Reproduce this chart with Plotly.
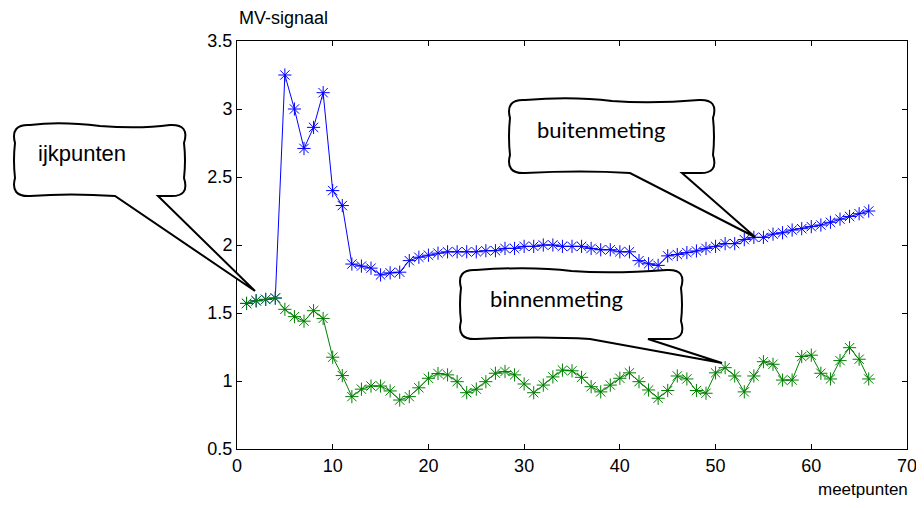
import plotly.graph_objects as go

meetpunten = list(range(1, 67))
buitenmeting = [1.57, 1.59, 1.60, 1.61, 3.25, 3.00, 2.71, 2.865, 3.12, 2.40,
                2.29, 1.86, 1.845, 1.83, 1.78, 1.795, 1.80, 1.885, 1.91, 1.925,
                1.94, 1.95, 1.95, 1.95, 1.95, 1.958, 1.958, 1.975, 1.975, 1.99,
                1.99, 2.0, 2.0, 1.99, 1.99, 1.99, 1.975, 1.965, 1.965, 1.95,
                1.95, 1.885, 1.862, 1.85, 1.92, 1.93, 1.944, 1.956, 1.975, 1.99,
                2.01, 2.01, 2.04, 2.056, 2.056, 2.08, 2.09, 2.11, 2.12, 2.135,
                2.147, 2.167, 2.19, 2.21, 2.23, 2.25]
binnenmeting = [1.571, 1.59, 1.60, 1.61, 1.527, 1.473, 1.44, 1.517, 1.46, 1.175,
                1.04, 0.885, 0.94, 0.963, 0.963, 0.927, 0.86, 0.885, 0.95, 1.02,
                1.055, 1.045, 0.995, 0.914, 0.94, 0.995, 1.057, 1.07, 1.045, 0.978,
                0.914, 0.97, 1.03, 1.08, 1.075, 1.027, 0.958, 0.92, 0.97, 1.02,
                1.06, 0.995, 0.934, 0.873, 0.93, 1.037, 1.015, 0.93, 0.91, 1.06,
                1.098, 1.037, 0.92, 1.037, 1.142, 1.123, 1.007, 1.007, 1.18, 1.19,
                1.057, 1.015, 1.15, 1.245, 1.16, 1.015]
x_ticks = [0, 10, 20, 30, 40, 50, 60, 70]
y_ticks = [0.5, 1, 1.5, 2, 2.5, 3, 3.5]

OFF = 8  # page body margin
W, H = 924 - 2 * OFF, 508 - 2 * OFF
# plot area in page pixels
L, R, T, B = 237, 907, 41, 449


def px(x, y):
    return (x - L) / (R - L), (B - y) / (B - T)


def bubble(x0, y0, x1, y1, tl, tr, tip, r=18):
    pts = []

    def P(cmd, *coords):
        s = cmd
        for i in range(0, len(coords), 2):
            a, b = px(coords[i], coords[i + 1])
            s += f" {a:.5f},{b:.5f}"
        pts.append(s)
    midx = (x0 + x1) / 2
    midy = (y0 + y1) / 2
    P("M", x0 + r, y0)
    P("Q", midx - 40, y0 - 4, midx, y0 + 1)
    P("Q", midx + 40, y0 + 4, x1 - r, y0)
    P("Q", x1 + 2, y0 - 1, x1 - 4, y0 + r)
    P("Q", x1 - 2, midy, x1 - 4, y1 - r)
    P("Q", x1 + 2, y1 + 1, x1 - r, y1)
    P("L", tr, y1)
    P("L", tip[0], tip[1])
    P("L", tl, y1)
    P("Q", midx - 30, y1 - 3, x0 + r, y1)
    P("Q", x0 - 2, y1 + 1, x0 + 3, y1 - r)
    P("Q", x0 + 1, midy, x0 + 3, y0 + r)
    P("Q", x0 - 2, y0 - 1, x0 + r, y0)
    return dict(type="path", xref="paper", yref="paper", path=" ".join(pts) + " Z",
                line=dict(color="black", width=2), fillcolor="white", layer="above")


fig = go.Figure()
fig.add_trace(go.Scatter(x=meetpunten, y=buitenmeting, mode="lines+markers",
                         line=dict(color="#0000ff", width=1),
                         marker=dict(symbol="asterisk-open", size=11,
                                     line=dict(color="#0000ff", width=1)),
                         showlegend=False))
fig.add_trace(go.Scatter(x=meetpunten, y=binnenmeting, mode="lines+markers",
                         line=dict(color="#008000", width=1),
                         marker=dict(symbol="asterisk-open", size=11,
                                     line=dict(color="#008000", width=1)),
                         showlegend=False))

shapes = [
    bubble(12, 125, 188, 196, 115, 158, (255, 291)),
    bubble(507, 100, 717, 173, 630, 682, (755, 237)),
    bubble(458, 270, 685, 339, 590, 648, (722, 363)),
]

annotations = []


def text(t, x, y, size, family, xanchor="center"):
    a, b = px(x, y)
    annotations.append(dict(text=t, x=a, y=b, xref="paper", yref="paper",
                            showarrow=False, xanchor=xanchor, yanchor="middle",
                            font=dict(size=size, family=family, color="black")))


text("ijkpunten", 36, 153, 22, "Liberation Sans", "left")
text("buitenmeting", 535, 129, 22, "Lato", "left")
text("binnenmeting", 488, 298, 22, "Lato", "left")
text("MV-signaal", 237, 18, 18, "Liberation Sans", "left")
text("meetpunten", 910, 489, 17, "Liberation Sans", "right")

axis_common = dict(showline=True, linecolor="black", linewidth=1, mirror="ticks",
                   ticks="inside", ticklen=5, tickcolor="black", showgrid=False,
                   zeroline=False, ticklabeloverflow="allow", automargin=False,
                   tickfont=dict(size=18, family="Liberation Sans", color="black"))

fig.update_layout(
    width=W, height=H,
    margin=dict(l=L - OFF, r=(W + OFF) - R, t=T - OFF, b=(H + OFF) - B),
    paper_bgcolor="white", plot_bgcolor="white",
    xaxis=dict(range=[0, 70], tickvals=x_ticks, **axis_common),
    yaxis=dict(range=[0.5, 3.5], tickvals=y_ticks, **axis_common),
    shapes=shapes, annotations=annotations,
)

fig.write_html("out.html")
